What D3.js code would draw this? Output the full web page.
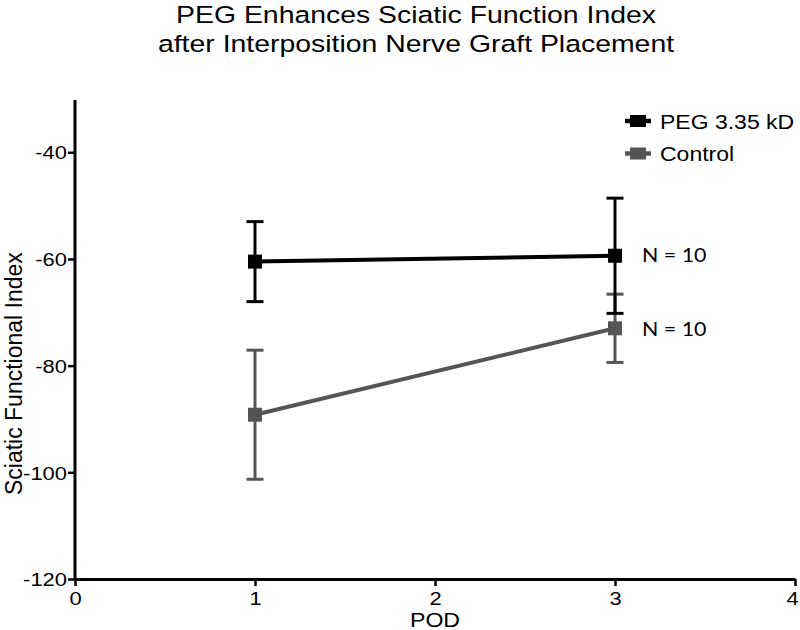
<!DOCTYPE html>
<html><head><meta charset="utf-8">
<script src="https://cdn.jsdelivr.net/npm/d3@7"></script>
<style>body{margin:0;background:#fff}svg{display:block}</style>
</head><body>
<script>
const titleLines = ["PEG Enhances Sciatic Function Index", "after Interposition Nerve Graft Placement"];
const seriesNames = ["PEG 3.35 kD", "Control"];
const seriesColors = ["#000000", "#555555"];
const pod = [1, 3];
const pegMean = [-60.5, -59.4];
const pegErr = [7.5, 10.8];
const ctrlMean = [-89.2, -73.0];
const ctrlErr = [12.1, 6.4];
const nLabels = ["N = 10", "N = 10"];
const xTicks = [0, 1, 2, 3, 4];
const yTicks = [-120, -100, -80, -60, -40];

const W = 800, H = 630;
const SX = 1.18; // horizontal stretch of the reference text
const svg = d3.select("body").append("svg").attr("width", W).attr("height", H);
const x = d3.scaleLinear().domain([0, 4]).range([75, 795]);
const y = d3.scaleLinear().domain([-120, -30.2]).range([579, 100]);
const font = "'Liberation Sans', Arial, sans-serif";

function stext(g, tx, ty, txt, size, anchor, sx, fam) {
  return g.append("text")
    .attr("transform", `translate(${tx},${ty}) scale(${sx},1)`)
    .attr("text-anchor", anchor).attr("font-family", fam || font).attr("font-size", size)
    .attr("fill", "#000").text(txt);
}

titleLines.forEach((t, i) => stext(svg, 416, 22.5 + i * 29.5, t, 24.5, "middle", 1.16));

const xAxis = svg.append("g").attr("transform", `translate(0,${y(-120)})`)
  .call(d3.axisBottom(x).tickValues(xTicks).tickSize(7).tickSizeOuter(0).tickFormat(d3.format("d")));
const yAxis = svg.append("g").attr("transform", `translate(${x(0)},0)`)
  .call(d3.axisLeft(y).tickValues(yTicks).tickSize(7).tickSizeOuter(0).tickFormat(d => d3.format("d")(d).replace("−", "-")));
[xAxis, yAxis].forEach(a => {
  a.select(".domain").attr("stroke-width", 3).attr("stroke", "#000");
  a.selectAll(".tick line").attr("stroke-width", 2.5).attr("stroke", "#000");
  a.selectAll("text").attr("font-family", font).attr("font-size", 18.6).attr("fill", "#000");
});
xAxis.selectAll(".tick text").attr("y", 0).attr("dy", 0)
  .attr("transform", d => `translate(${d === 4 ? -3 : 0},26) scale(${SX},1)`);
yAxis.selectAll(".tick text").attr("x", 0).attr("dy", "0.36em")
  .attr("transform", `translate(-8,0) scale(${SX},1)`);
yAxis.select(".domain").attr("d", `M0,${y(-30.2)}V${y(-120)}`);

stext(svg, x(2), 626.5, "POD", 19.6, "middle", SX);
svg.append("text").attr("transform", `translate(21.5,${y(-81.5)}) rotate(-90) scale(1,1.05)`).attr("text-anchor", "middle")
  .attr("font-family", font).attr("font-size", 23).text("Sciatic Functional Index");

const series = [
  {name: seriesNames[0], color: seriesColors[0], mean: pegMean, err: pegErr},
  {name: seriesNames[1], color: seriesColors[1], mean: ctrlMean, err: ctrlErr}
];
const line = d3.line().x(d => x(d[0])).y(d => y(d[1]));

[series[1], series[0]].forEach(s => {
  const pts = pod.map((p, i) => [p, s.mean[i], s.err[i]]);
  const g = svg.append("g");
  pts.forEach(d => {
    g.append("line").attr("x1", x(d[0])).attr("x2", x(d[0]))
      .attr("y1", y(d[1] + d[2])).attr("y2", y(d[1] - d[2]))
      .attr("stroke", s.color).attr("stroke-width", 3);
    [d[1] + d[2], d[1] - d[2]].forEach(v => {
      g.append("line").attr("x1", x(d[0]) - 8.5).attr("x2", x(d[0]) + 8.5)
        .attr("y1", y(v)).attr("y2", y(v)).attr("stroke", s.color).attr("stroke-width", 3);
    });
  });
  g.append("path").datum(pts).attr("d", line).attr("fill", "none")
    .attr("stroke", s.color).attr("stroke-width", 4);
  g.selectAll("rect").data(pts).join("rect")
    .attr("x", d => x(d[0]) - 7).attr("y", d => y(d[1]) - 7)
    .attr("width", 14).attr("height", 14).attr("fill", s.color);
});

nLabels.forEach((t, i) => stext(svg, 642, y(series[i].mean[1]) + 6.5 + i * 1, t, 20, "start", 1.07, "Lato, 'Open Sans', sans-serif"));

const lg = svg.append("g");
series.forEach((s, i) => {
  const cy = 121 + i * 32.5;
  lg.append("line").attr("x1", 625).attr("x2", 651).attr("y1", cy).attr("y2", cy)
    .attr("stroke", s.color).attr("stroke-width", 4.5);
  lg.append("rect").attr("x", 630).attr("y", cy - 6).attr("width", 16).attr("height", 12).attr("fill", s.color);
  stext(lg, 660, cy + 7.5, s.name, 19.5, "start", SX);
});
</script>
</body></html>
